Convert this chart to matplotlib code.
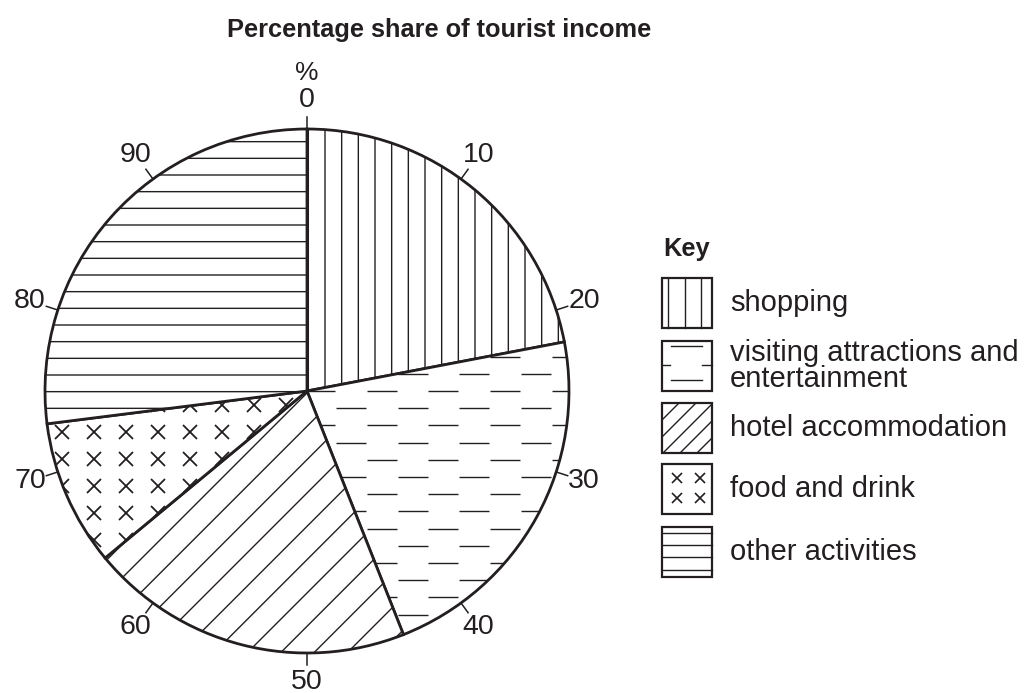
import numpy as np
import matplotlib
matplotlib.use("Agg")
import matplotlib.pyplot as plt
from matplotlib.patches import Rectangle
from matplotlib.collections import LineCollection

# data (percent of tourist income)
categories = ["shopping", "visiting attractions and\nentertainment",
              "hotel accommodation", "food and drink", "other activities"]
shares = [22, 22, 20, 9, 27]
tick_values = [0, 10, 20, 30, 40, 50, 60, 70, 80, 90]
title = "Percentage share of tourist income"

ink = "#231f20"
plt.rcParams["font.family"] = ["Liberation Sans", "DejaVu Sans"]
plt.rcParams["hatch.linewidth"] = 1.0

W, H = 1025, 693
fig = plt.figure(figsize=(W / 100, H / 100), dpi=100)

# pie axes: centre (307, 391) px, radius 262 px -> radius 1 in data units
cx, cy, r_px, half = 307, 391, 262, 300
ax = fig.add_axes([(cx - half) / W, (H - cy - half) / H, 2 * half / W, 2 * half / H])
px = 1.0 / r_px

wedges, _ = ax.pie(shares, startangle=90, counterclock=False, radius=1,
                   wedgeprops=dict(facecolor="white", edgecolor=ink, linewidth=2.0))
ax.set_xlim(-half * px, half * px)
ax.set_ylim(-half * px, half * px)
ax.set_aspect("equal")
ax.axis("off")

wedges[0].set_hatch("|")
wedges[2].set_hatch("/")
wedges[4].set_hatch("-")

# visiting attractions: staggered dashes
period, dash, row = 61.7 * px, 30 * px, 17.2 * px
segs = []
for j in range(-17, 18):
    y = -j * row
    shift = (j % 2) * period / 2
    for k in range(-6, 6):
        x = k * period + shift - 2 * px
        segs.append([(x, y), (x + dash, y)])
lc = LineCollection(segs, colors=ink, linewidths=1.0, zorder=2)
ax.add_collection(lc)
lc.set_clip_path(wedges[1])

# food and drink: grid of x marks
gx = (62 - cx) * px + np.arange(-1, 12) * 32 * px
gy = (cy - 432) * px - np.arange(-3, 10) * 27 * px
mx, my = np.meshgrid(gx, gy)
marks, = ax.plot(mx.ravel(), my.ravel(), "x", color=ink, ms=10.5, mew=1.3, zorder=2)
marks.set_clip_path(wedges[3])

# percentage scale round the edge
for v in tick_values:
    a = np.radians(90 - 3.6 * v)
    ax.plot([np.cos(a), 1.046 * np.cos(a)], [np.sin(a), 1.046 * np.sin(a)],
            color=ink, lw=1.1, clip_on=False)
    ax.text(1.112 * np.cos(a), 1.112 * np.sin(a), str(v), fontsize=20.5, color=ink,
            ha="center", va="center")
ax.text(0, 1.215, "%", fontsize=19, color=ink, ha="center", va="center")

# title and key in pixel coordinates
ov = fig.add_axes([0, 0, 1, 1])
ov.set_xlim(0, W)
ov.set_ylim(H, 0)
ov.axis("off")
ov.text(439, 37, title, fontsize=18.3, fontweight="bold", color=ink,
        ha="center", va="baseline")
ov.text(663, 256, "Key", fontsize=18.3, fontweight="bold", color=ink,
        ha="left", va="baseline")

bx, bs = 662, 50
box_tops = [278, 341, 403, 464, 527]
lw_box = 1.6
for i, (name, top) in enumerate(zip(categories, box_tops)):
    ov.add_patch(Rectangle((bx, top), bs, bs, facecolor="white", edgecolor=ink,
                           lw=lw_box, zorder=3))
    if i == 0:
        for off in [6, 22.5, 38.5]:
            ov.plot([bx + off, bx + off], [top, top + bs], color=ink, lw=1.0, zorder=4)
    elif i == 1:
        ov.plot([bx + 9, bx + 40], [top + 5, top + 5], color=ink, lw=1.0, zorder=4)
        ov.plot([bx, bx + 8], [top + 24, top + 24], color=ink, lw=1.0, zorder=4)
        ov.plot([bx + 40, bx + bs], [top + 24, top + 24], color=ink, lw=1.0, zorder=4)
        ov.plot([bx + 9, bx + 40], [top + 39, top + 39], color=ink, lw=1.0, zorder=4)
    elif i == 2:
        rect = Rectangle((bx, top), bs, bs, facecolor="none", edgecolor="none", zorder=4)
        ov.add_patch(rect)
        for off in np.arange(-bs, bs + 1, 17):
            ln, = ov.plot([bx + off, bx + off + bs], [top + bs, top], color=ink,
                          lw=1.0, zorder=4)
            ln.set_clip_path(rect)
    elif i == 3:
        ov.plot([bx + 15, bx + 38, bx + 15, bx + 38], [top + 14, top + 14, top + 34, top + 34],
                "x", color=ink, ms=7.5, mew=1.2, zorder=4)
    else:
        for off in [6, 18, 30, 42.5]:
            ov.plot([bx, bx + bs], [top + off, top + off], color=ink, lw=1.0, zorder=4)
    ov.text(730, top + bs / 2, name, fontsize=21, color=ink, ha="left",
            va="center", linespacing=0.95)

fig.savefig("out.png", dpi=100)
